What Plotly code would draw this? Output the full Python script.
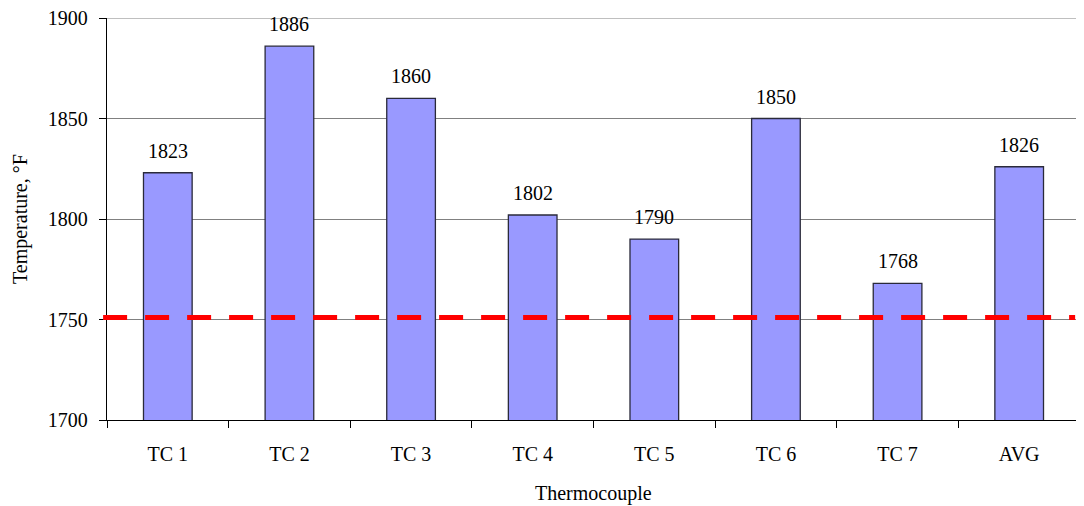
import plotly.graph_objects as go

categories = ["TC 1", "TC 2", "TC 3", "TC 4", "TC 5", "TC 6", "TC 7", "AVG"]
temperatures = [1823, 1886, 1860, 1802, 1790, 1850, 1768, 1826]
limit_value = 1751
y_ticks = [1700, 1750, 1800, 1850, 1900]

font_family = "Liberation Serif, Times New Roman, serif"

fig = go.Figure()
fig.add_trace(go.Bar(
    x=categories, y=temperatures,
    marker=dict(color="#9999FF", line=dict(color="#2a2a3a", width=1.3)),
    width=0.4,
))

for c, v in zip(categories, temperatures):
    fig.add_annotation(x=c, y=v, text=str(v), showarrow=False,
                       yanchor="bottom", yshift=9,
                       font=dict(family=font_family, size=20, color="black"))

fig.add_shape(type="line", xref="paper", yref="y",
              x0=-0.004, x1=0.995, y0=limit_value, y1=limit_value,
              line=dict(color="#FF0000", width=5, dash="24px,18px"))

# top gridline (plotly clips the gridline at the range end)
fig.add_shape(type="line", xref="paper", yref="y", layer="below",
              x0=0, x1=1, y0=y_ticks[-1], y1=y_ticks[-1],
              line=dict(color="#808080", width=1))

# page body has an 8px default margin, so the figure is sized accordingly
fig.update_layout(
    width=1076, height=498,
    margin=dict(l=99, r=4, t=10, b=86),
    paper_bgcolor="white", plot_bgcolor="white",
    showlegend=False,
    font=dict(family=font_family, size=20, color="black"),
    bargap=0.6,
)
fig.update_yaxes(
    range=[1700, 1900], tickvals=y_ticks, ticks="outside", ticklen=7,
    tickcolor="black", showgrid=True, gridcolor="#808080", gridwidth=1,
    showline=True, linecolor="black", linewidth=1.3, zeroline=False,
    tickfont=dict(size=20), automargin=False, ticklabelstandoff=7,
    ticklabeloverflow="allow",
)
fig.update_xaxes(
    ticks="outside", ticklen=7, tickcolor="black", tickson="boundaries",
    showline=True, linecolor="black", linewidth=1.3,
    tickfont=dict(size=20), automargin=False, ticklabelstandoff=16,
)
fig.add_annotation(text="Temperature, °F", xref="paper", yref="paper",
                   x=-0.0894, y=0.5, textangle=-90, showarrow=False,
                   xanchor="center", yanchor="middle",
                   font=dict(family=font_family, size=20))
fig.add_annotation(text="Thermocouple", xref="paper", yref="paper",
                   x=0.5, y=-0.1816, showarrow=False,
                   xanchor="center", yanchor="middle",
                   font=dict(family=font_family, size=20))
# right border
fig.add_shape(type="line", xref="paper", yref="paper", x0=1, x1=1, y0=0, y1=1,
              line=dict(color="#A0A0A0", width=2))

fig.write_html("out.html")
